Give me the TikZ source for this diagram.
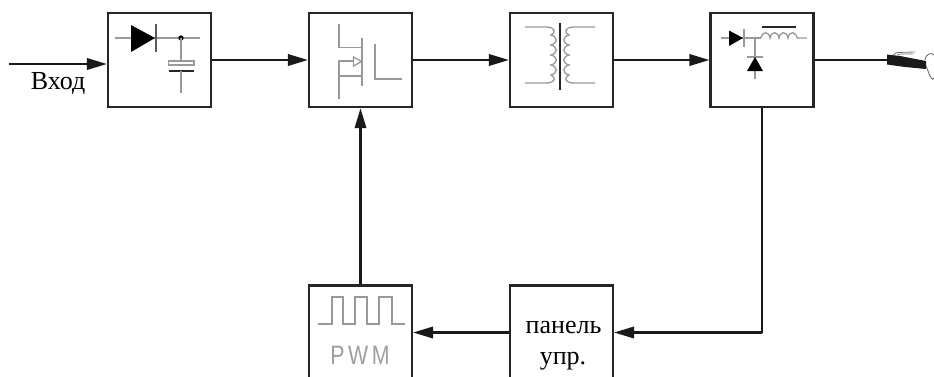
\documentclass[tikz,border=0pt]{standalone}
\usepackage{fontspec}
\setmainfont{Liberation Serif}
\setsansfont{Liberation Sans}
\usetikzlibrary{arrows.meta}
\definecolor{sym}{gray}{0.6}
\tikzset{
  blockbox/.style={draw=black!85,line width=1.8pt,minimum width=77pt,minimum height=70.5pt,inner sep=0pt},
  conn/.style={draw=black!90,line width=1.8pt,line join=round,-{Triangle[length=15pt,width=8.5pt]}},
  plainconn/.style={draw=black!90,line width=1.8pt},
  symline/.style={draw=sym,line width=1pt},
  darkline/.style={draw=black!85,line width=1.5pt},
  lbl/.style={font=\fontsize{19.5}{22}\selectfont,inner sep=0pt}
}
\begin{document}
\begin{tikzpicture}[x=0.75pt,y=-0.75pt]
\useasboundingbox (0,0) rectangle (934,376);
\clip (0,0) rectangle (934,376);
% blocks
\node[blockbox] (b1) at (159.5,60) {};
\node[blockbox] (b2) at (360.5,60) {};
\node[blockbox] (b3) at (561.5,60) {};
\node[blockbox] (b4) at (762,60) {};
\node[blockbox] (pwm) at (360.5,332.5) {};
\node[blockbox] (pan) at (561.5,332.5) {};
% connectors
\coordinate (in) at (9,64);
\coordinate (torch) at (888,60);
\draw[conn] (in) -- (in -| b1.west);
\draw[conn] (b1.east) -- (b2.west);
\draw[conn] (b2.east) -- (b3.west);
\draw[conn] (b3.east) -- (b4.west);
\draw[plainconn] (b4.east) -- (torch);
\draw[conn] (pwm.north) -- (b2.south);
\draw[conn] (b4.south) |- (pan.east);
\draw[conn] (pan.west) -- (pwm.east);
% labels
\node[lbl] (vhod) at (58,83) {Вход};
\node[lbl] (p1) at (563.5,327) {панель};
\node[lbl] (p2) at (563,361) {упр.};
% rectifier + capacitor
\draw[symline] (115,38) -- (200,38);
\fill (131,25) -- (155,38) -- (131,52) -- cycle;
\draw[symline,draw=black!65] (156,24) -- (156,52);
\fill (181,38) circle (2.7);
\draw[symline] (181,38) -- (181,62);
\draw[symline,fill=white] (168.5,61) rectangle (194,65);
\draw[darkline] (168.5,71) -- (194,71);
\draw[symline] (181,71) -- (181,93);
% MOSFET
\draw[symline] (339,24) -- (339,47.5) -- (362,47.5);
\draw[symline] (362,38) -- (362,86);
\draw[symline] (339,99) -- (339,61) -- (362,61);
\draw[symline] (339,76) -- (362,76);
\draw[symline,fill=white] (353.5,57) -- (361.5,61.5) -- (353.5,66) -- cycle;
\draw[symline] (375,44) -- (375,79) -- (402,79);
% transformer
\draw[symline] (525,27) -- (546,27) .. controls (556,27) and (556,33) .. (551,35)
  .. controls (558,37) and (558,43) .. (551,45) .. controls (558,47) and (558,53) .. (551,55)
  .. controls (558,57) and (558,63) .. (551,65) .. controls (558,67) and (558,73) .. (551,75)
  .. controls (556,77) and (556,83) .. (546,83) -- (525,83);
\draw[symline] (595,27) -- (574,27) .. controls (564,27) and (564,33) .. (569,35)
  .. controls (562,37) and (562,43) .. (569,45) .. controls (562,47) and (562,53) .. (569,55)
  .. controls (562,57) and (562,63) .. (569,65) .. controls (562,67) and (562,73) .. (569,75)
  .. controls (564,77) and (564,83) .. (574,83) -- (595,83);
\draw[darkline,line width=1.8pt] (560,23) -- (560,90);
% buck
\draw[symline] (721,38) -- (761,38);
\fill (729,30.5) -- (743,38) -- (729,46) -- cycle;
\draw[symline] (744,29) -- (744,47);
\draw[symline] (755,38) -- (755,79);
\draw[symline] (747,57) -- (763,57);
\fill (755,57) -- (763,71) -- (747,71) -- cycle;
\draw[symline] (761,38) .. controls (762,31) and (769,31) .. (770,38)
  .. controls (771,31) and (778,31) .. (779,38) .. controls (780,31) and (787,31) .. (788,38)
  .. controls (789,31) and (796,31) .. (797,38) -- (807,38);
\draw[darkline] (762,27) -- (796,27);
% torch
\fill[black!90] (887,54.5) -- (900,56) -- (926,61) -- (926,69) -- (905,67) -- (887,64.5) -- cycle;
\draw[black!55,line width=0.6pt] (893,55) -- (897,52.5) -- (915,52) (897,55) -- (900,54) -- (913,54);
\draw[black!55,line width=0.7pt] (925,60) .. controls (925,54) and (932,52) .. (934,55) (926,66) -- (930,76) .. controls (932,80) and (934,80) .. (934,78);
% PWM symbol
\draw[symline] (318,324) -- (332,324) -- (332,297) -- (343,297) -- (343,324) -- (355,324) -- (355,297) -- (367,297) -- (367,324) -- (379,324) -- (379,297) -- (392,297) -- (392,324) -- (405,324);
\node[font=\sffamily\fontsize{20}{22}\selectfont,text=black!38,inner sep=0pt] (pwmt) at (360,355) {\scalebox{0.8}[1]{P\,W\,M}};
\end{tikzpicture}
\end{document}
